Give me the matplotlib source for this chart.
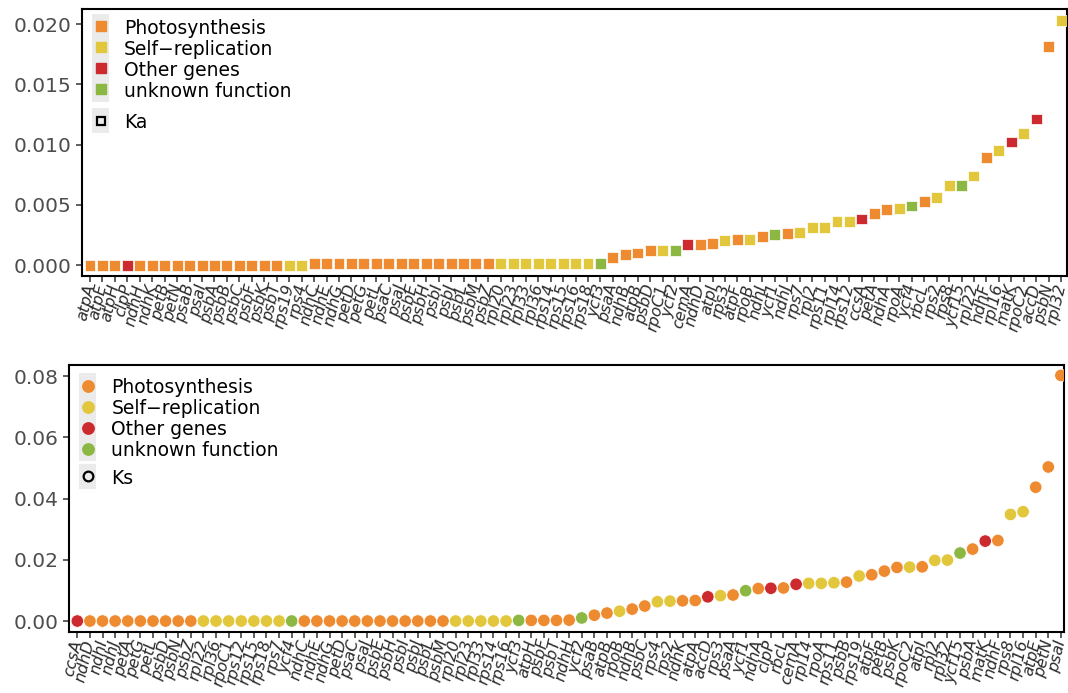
"""
plot.py

Ka and Ks values per chloroplast gene, ranked, coloured by functional group.
"""

import matplotlib
matplotlib.use("Agg")
import matplotlib.pyplot as plt
from matplotlib.lines import Line2D
from matplotlib.patches import Rectangle
from matplotlib.legend_handler import HandlerTuple, HandlerPatch

plt.rcParams["font.family"] = ["DejaVu Sans"]

GROUP_ORDER = ["P", "S", "O", "U"]
GROUP_NAMES = {
    "P": "Photosynthesis",
    "S": "Self\u2212replication",
    "O": "Other genes",
    "U": "unknown function",
}
GROUP_COLORS = {
    "P": "#EE8A2F",
    "S": "#E2C63B",
    "O": "#CC2A2E",
    "U": "#8DB743",
}
KEY_GREY = "#EBEBEB"

# --- Ka panel -------------------------------------------------------------
ka_genes = [
    "atpA", "atpE", "atpH", "clpP", "ndhH", "ndhK", "petB", "petN", "psaB", "psaI",
    "psbA", "psbB", "psbC", "psbF", "psbK", "psbT", "rps19", "rps4", "ndhC", "ndhE",
    "ndhG", "petD", "petG", "petL", "psaC", "psaJ", "psbE", "psbH", "psbI", "psbJ",
    "psbL", "psbM", "psbZ", "rpl20", "rpl23", "rpl33", "rpl36", "rps14", "rps15", "rps16",
    "rps18", "ycf3", "psaA", "ndhB", "atpB", "psbD", "rpoC1", "ycf2", "cemA", "ndhD",
    "atpI", "rps3", "atpF", "rpoB", "ndhI", "ycf1", "ndhJ", "rps7", "rpl2", "rps11",
    "rpl14", "rps12", "ccsA", "petA", "ndhA", "rpoA", "ycf4", "rbcL", "rps2", "rps8",
    "ycf15", "rpl22", "ndhF", "rpl16", "matK", "rpoC2", "accD", "psbN", "rpl32",
]
ka_values = [
    0.0, 0.0, 0.0, 0.0, 0.0, 0.0, 0.0, 0.0, 0.0, 0.0,
    0.0, 0.0, 0.0, 0.0, 0.0, 0.0, 0.0, 0.0, 0.0001, 0.0001,
    0.0001, 0.0001, 0.0001, 0.0001, 0.0001, 0.0001, 0.0001, 0.0001, 0.0001, 0.0001,
    0.0001, 0.0001, 0.0001, 0.0001, 0.0001, 0.0001, 0.0001, 0.0001, 0.0001, 0.0001,
    0.0001, 0.0001, 0.0006, 0.0009, 0.0010, 0.0012, 0.0012, 0.0012, 0.00174, 0.00174,
    0.0018, 0.00202, 0.00213, 0.00213, 0.0024, 0.00251, 0.00263, 0.00271, 0.0031, 0.0031,
    0.0036, 0.0036, 0.00382, 0.00429, 0.00462, 0.0047, 0.0049, 0.00531, 0.00559, 0.00661,
    0.00661, 0.00739, 0.0089, 0.00952, 0.01021, 0.0109, 0.01212, 0.01817, 0.02033,
]
ka_groups = [
    "P", "P", "P", "O", "P", "P", "P", "P", "P", "P",
    "P", "P", "P", "P", "P", "P", "S", "S", "P", "P",
    "P", "P", "P", "P", "P", "P", "P", "P", "P", "P",
    "P", "P", "P", "S", "S", "S", "S", "S", "S", "S",
    "S", "U", "P", "P", "P", "P", "S", "U", "O", "P",
    "P", "S", "P", "S", "P", "U", "P", "S", "S", "S",
    "S", "S", "O", "P", "P", "S", "U", "P", "S", "S",
    "U", "S", "P", "S", "O", "S", "O", "P", "S",
]

# --- Ks panel -------------------------------------------------------------
ks_genes = [
    "ccsA", "ndhD", "ndhI", "ndhJ", "petA", "petG", "petL", "psbD", "psbN", "psbZ",
    "rpl22", "rpl36", "rpoC1", "rps12", "rps15", "rps18", "rps7", "ycf4", "ndhC", "ndhE",
    "ndhG", "petD", "psaC", "psaJ", "psbE", "psbH", "psbI", "psbJ", "psbL", "psbM",
    "rpl20", "rpl23", "rpl33", "rps14", "rps16", "ycf3", "atpH", "psbF", "psbT", "ndhH",
    "ycf2", "psaB", "atpB", "rpoB", "ndhB", "psbC", "rps4", "rps2", "ndhK", "atpA",
    "accD", "rps3", "psaA", "ycf1", "ndhA", "clpP", "rbcL", "cemA", "rpl14", "rpoA",
    "rps11", "psbB", "rps19", "atpF", "petB", "psbK", "rpoC2", "atpI", "rpl2", "rpl32",
    "ycf15", "psbA", "matK", "ndhF", "rps8", "rpl16", "atpE", "petN", "psaI",
]
ks_values = [
    0.0, 0.0, 0.0, 0.0, 0.0, 0.0, 0.0, 0.0, 0.0, 0.0,
    0.0, 0.0, 0.0, 0.0, 0.0, 0.0, 0.0, 0.0, 0.0, 0.0,
    0.0, 0.0, 0.0, 0.0, 0.0, 0.0, 0.0, 0.0, 0.0, 0.0,
    0.0, 0.0, 0.0, 0.0, 0.0, 0.0002, 0.0002, 0.0002, 0.0002, 0.0003,
    0.0010, 0.0019, 0.0026, 0.0032, 0.0039, 0.0049, 0.0063, 0.0065, 0.0066, 0.0067,
    0.0079, 0.0083, 0.0085, 0.0099, 0.0106, 0.0107, 0.0108, 0.0120, 0.0123, 0.0123,
    0.0125, 0.0127, 0.0147, 0.0151, 0.0163, 0.0175, 0.0176, 0.0177, 0.0198, 0.0199,
    0.0222, 0.0235, 0.0261, 0.0263, 0.0348, 0.0357, 0.0437, 0.0503, 0.0802,
]
ks_groups = [
    "O", "P", "P", "P", "P", "P", "P", "P", "P", "P",
    "S", "S", "S", "S", "S", "S", "S", "U", "P", "P",
    "P", "P", "P", "P", "P", "P", "P", "P", "P", "P",
    "S", "S", "S", "S", "S", "U", "P", "P", "P", "P",
    "U", "P", "P", "S", "P", "P", "S", "S", "P", "P",
    "O", "S", "P", "U", "P", "O", "P", "O", "S", "S",
    "S", "P", "S", "P", "P", "P", "S", "P", "S", "S",
    "U", "P", "O", "P", "S", "S", "P", "P", "P",
]


def key_background(legend, orig_handle, xdescent, ydescent, width, height, fontsize):
    """Grey key tile covering the whole legend row, a little past its edges."""
    return Rectangle((-xdescent, -ydescent - 1.2), width, height + ydescent + 2.4)


def style_axes(ax, yticks, yfmt):
    """Black frame, grey tick labels and italic rotated gene names."""
    for spine in ax.spines.values():
        spine.set_color("black")
        spine.set_linewidth(1.5)
    ax.set_yticks(yticks)
    ax.set_yticklabels([yfmt.format(t) for t in yticks])
    ax.tick_params(axis="y", length=4, width=1.1, color="#333333",
                   labelsize=14.5, labelcolor="#4D4D4D", pad=3.5)
    ax.tick_params(axis="x", length=4, width=1.1, color="#333333", pad=2)
    for lab in ax.get_xticklabels():
        lab.set_rotation(77)
        lab.set_rotation_mode("anchor")
        lab.set_ha("right")
        lab.set_va("center")
        lab.set_fontsize(11.5)
        lab.set_fontstyle("italic")
        lab.set_color("#2B2B2B")


def add_legends(ax, marker, msize, series_name, anchor_y, gap):
    """Colour legend for the gene groups, plus a second key for the series."""
    def keyed(m):
        bg = Rectangle((0, 0), 1, 1, facecolor=KEY_GREY, edgecolor="none")
        return (bg, m)

    colour_handles = [
        keyed(Line2D([], [], linestyle="none", marker=marker, markersize=msize,
                     markerfacecolor=GROUP_COLORS[g], markeredgecolor=GROUP_COLORS[g]))
        for g in GROUP_ORDER
    ]
    common = dict(
        loc="upper left", frameon=False, fontsize=13.5, borderpad=0,
        borderaxespad=0, labelspacing=0.07, handlelength=0.9, handleheight=1.15,
        handletextpad=0.8,
        handler_map={
            tuple: HandlerTuple(ndivide=1, pad=0),
            Rectangle: HandlerPatch(patch_func=key_background),
        },
    )
    leg1 = ax.legend(colour_handles, [GROUP_NAMES[g] for g in GROUP_ORDER],
                     bbox_to_anchor=(0.0105, anchor_y), **common)
    ax.add_artist(leg1)

    series_handle = keyed(Line2D([], [], linestyle="none", marker=marker,
                                 markersize=msize * 0.85, markerfacecolor="none",
                                 markeredgecolor="black", markeredgewidth=1.6))
    ax.legend([series_handle], [series_name],
              bbox_to_anchor=(0.0105, gap), **common)


def plot_panel(ax, genes, values, groups, marker, size):
    x = list(range(len(genes)))
    colors = [GROUP_COLORS[g] for g in groups]
    ax.scatter(x, values, c=colors, marker=marker, s=size,
               edgecolors="white", linewidths=0.5, zorder=3)
    ax.set_xticks(x)
    ax.set_xticklabels(genes)


fig = plt.figure(figsize=(10.68, 6.93), dpi=100)

ax_ka = fig.add_axes([0.0768, 0.6017, 0.922, 0.3848])
plot_panel(ax_ka, ka_genes, ka_values, ka_groups, "s", 62)
ax_ka.set_xlim(-0.64, 78.45)
ax_ka.set_ylim(-0.00091, 0.02122)
style_axes(ax_ka, [0.0, 0.005, 0.010, 0.015, 0.020], "{:.3f}")
add_legends(ax_ka, "s", 7.6, "Ka", 0.966, 0.612)

ax_ks = fig.add_axes([0.0646, 0.0887, 0.9316, 0.3846])
plot_panel(ax_ks, ks_genes, ks_values, ks_groups, "o", 80)
ax_ks.set_xlim(-0.66, 78.24)
ax_ks.set_ylim(-0.00343, 0.0836)
style_axes(ax_ks, [0.00, 0.02, 0.04, 0.06, 0.08], "{:.2f}")
add_legends(ax_ks, "o", 8.2, "Ks", 0.952, 0.612)

fig.savefig("out.png", dpi=100)
plt.close(fig)
